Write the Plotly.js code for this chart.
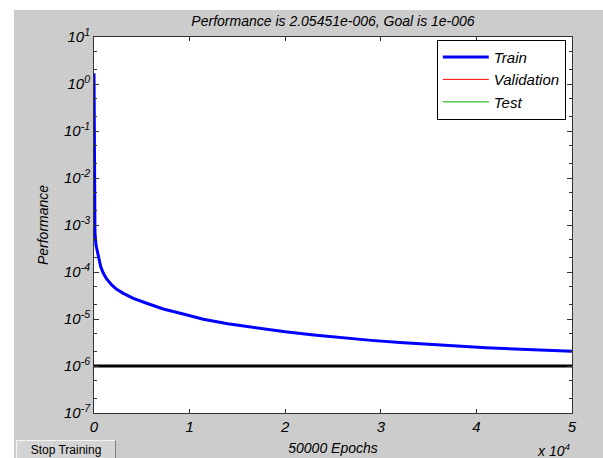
<!DOCTYPE html>
<html>
<head>
<meta charset="utf-8">
<script src="https://cdn.plot.ly/plotly-3.0.1.min.js"></script>
<style>
  html, body { margin:0; padding:0; background:#ffffff; width:603px; height:458px; overflow:hidden; }
  #bg { position:absolute; left:14px; top:10px; width:589px; height:448px; background:#cccccc; }
  #chart { position:absolute; left:0; top:0; width:603px; height:458px; }
  #btn { position:absolute; left:16px; top:440px; width:100px; height:22px; background:#d4d4d4;
         border-top:1px solid #f4f4f4; border-left:1px solid #f4f4f4; border-right:1px solid #808080;
         border-bottom:1px solid #808080; box-sizing:border-box; font-family:"Liberation Sans", Arial, sans-serif;
         font-size:12px; color:#000; text-align:center; line-height:19px; }
</style>
</head>
<body>
<div id="bg"></div>
<div id="chart"></div>
<div id="btn">Stop Training</div>
<script>
// Training performance (MSE)
const epochs = [0, 20, 50, 100, 209, 450, 700, 975, 1325, 1850, 2370, 3070, 4110, 5510, 7250, 9340,
                11430, 14000, 17000, 20000, 23000, 26000, 29000, 32000, 35000, 38000, 41000, 44000, 47000, 50000];
const trainPerf = [1.7, 0.02, 0.003, 7.0e-4, 3.75e-4, 2.11e-4, 1.30e-4, 9.4e-5, 7.1e-5, 5.3e-5, 4.27e-5,
                   3.52e-5, 2.75e-5, 2.16e-5, 1.63e-5, 1.28e-5, 9.86e-6, 7.9e-6, 6.45e-6, 5.37e-6, 4.57e-6,
                   3.98e-6, 3.51e-6, 3.16e-6, 2.88e-6, 2.66e-6, 2.45e-6, 2.29e-6, 2.16e-6, 2.05451e-6];
// No validation / test split: those curves hold no values
const valEpochs = [null];
const valPerf = [null];
const testEpochs = [null];
const testPerf = [null];
const goal = 1e-6;
const goalEpochs = [0, 50000];
const goalPerf = [goal, goal];

const xTickVals = [0, 10000, 20000, 30000, 40000, 50000];
const xTickText = ["0", "1", "2", "3", "4", "5"];
const yExponents = [-7, -6, -5, -4, -3, -2, -1, 0, 1];
const yTickVals = yExponents.map(e => Math.pow(10, e));
const yTickText = yExponents.map(e => "10<sup>" + e + "</sup>");

const FONT = "Liberation Sans, Arial, sans-serif";
const ital = (size) => ({family: FONT, size: size, color: "#000", style: "italic"});

const traces = [
  {x: epochs, y: trainPerf, name: "Train", mode: "lines", line: {color: "#0000ff", width: 3}},
  {x: valEpochs, y: valPerf, name: "Validation", mode: "lines", line: {color: "#ff0000", width: 1}},
  {x: testEpochs, y: testPerf, name: "Test", mode: "lines", line: {color: "#00aa00", width: 1}},
  {x: goalEpochs, y: goalPerf, name: "Goal", mode: "lines", showlegend: false, line: {color: "#000", width: 3}}
];

const layout = {
  width: 603, height: 458,
  margin: {l: 94, r: 31, t: 37, b: 45},
  paper_bgcolor: "rgba(0,0,0,0)",
  plot_bgcolor: "#ffffff",
  title: {text: "Performance is 2.05451e-006, Goal is 1e-006", font: ital(14), x: 0.5, xref: "paper", y: 0.955, yanchor: "middle"},
  showlegend: true,
  legend: {x: 0.987, xanchor: "right", y: 0.993, yanchor: "top", bgcolor: "#ffffff", bordercolor: "#000",
           borderwidth: 1, font: ital(15), itemwidth: 46, tracegroupgap: 0, traceorder: "normal"},
  xaxis: {range: [0, 50000], tickvals: xTickVals, ticktext: xTickText, tickfont: ital(15),
          ticks: "inside", ticklen: 4, tickcolor: "#333", showline: true, linecolor: "#333", linewidth: 1,
          mirror: "ticks", showgrid: false, zeroline: false,
          title: {text: "50000 Epochs", font: ital(14), standoff: 9}},
  yaxis: {type: "log", range: [-7, 1], tickvals: yTickVals, ticktext: yTickText, tickfont: ital(15),
          ticks: "inside", ticklen: 5, tickcolor: "#333", showline: true, linecolor: "#333", linewidth: 1,
          mirror: "ticks", showgrid: false, zeroline: false,
          minor: {ticks: "inside", ticklen: 3, tickcolor: "#333", showgrid: false},
          title: {text: "Performance", font: ital(14), standoff: 12}},
  annotations: [
    {text: "x 10<sup>4</sup>", xref: "paper", yref: "paper", x: 1.0, y: -0.07, xanchor: "right", yanchor: "top",
     showarrow: false, font: ital(14)}
  ]
};

Plotly.newPlot("chart", traces, layout, {displayModeBar: false, staticPlot: true});
</script>
</body>
</html>
